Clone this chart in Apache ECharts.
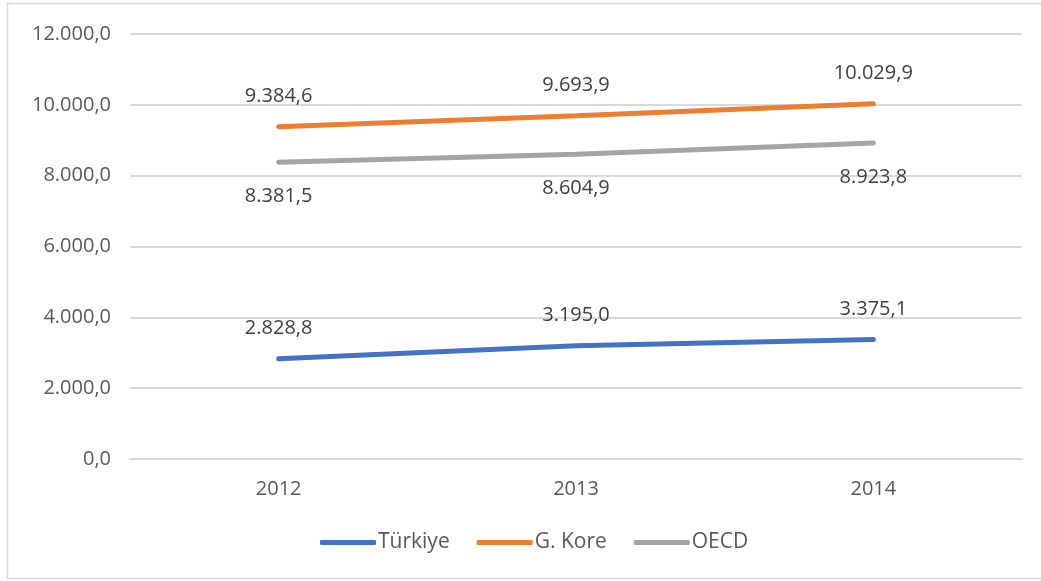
<!DOCTYPE html>
<html>
<head>
<meta charset="utf-8">
<script src="https://cdn.jsdelivr.net/npm/echarts@6/dist/echarts.min.js"></script>
<style>
  html, body { margin: 0; padding: 0; background: #fff; }
  #chart { width: 1041px; height: 581px; }
</style>
</head>
<body>
<div id="chart"></div>
<script>
const years = ['2012', '2013', '2014'];
const turkiye = [2828.8, 3195.0, 3375.1];
const gKore = [9384.6, 9693.9, 10029.9];
const oecd = [8381.5, 8604.9, 8923.8];

const fontFamily = '"Open Sans", "Noto Sans", sans-serif';

// Turkish number format: 9.384,6
function fmt(v) {
    let parts = v.toFixed(1).split('.');
    let intPart = parts[0].replace(/\B(?=(\d{3})+(?!\d))/g, '.');
    return intPart + ',' + parts[1];
}

let myChart = echarts.init(document.getElementById('chart'));

function makeSeries(name, data, color, pos) {
    return {
        name: name,
        type: 'line',
        data: data,
        symbol: 'circle',
        symbolSize: 1,
        showSymbol: true,
        lineStyle: { color: color, width: 5, cap: 'round' },
        itemStyle: { color: color },
        label: {
            show: true,
            position: pos,
            distance: pos === 'top' ? 20 : 24,
            formatter: function (p) { return fmt(p.value); },
            color: '#404040',
            fontSize: 20,
            fontFamily: fontFamily
        }
    };
}

let option = {
    animation: false,
    backgroundColor: '#fff',
    grid: { left: 130, right: 19, top: 34, bottom: 122 },
    graphic: [{
        type: 'rect',
        shape: { x: 7.5, y: 3.5, width: 1100, height: 575 },
        style: { fill: 'none', stroke: '#d9d9d9', lineWidth: 1.5 },
        silent: true
    }],
    legend: {
        bottom: 23,
        left: 315,
        itemWidth: 56,
        itemHeight: 5,
        itemGap: 27,
        icon: 'roundRect',
        textStyle: { color: '#595959', fontSize: 21, fontFamily: fontFamily, padding: [0, 0, 0, -3] },
        data: ['Türkiye', 'G. Kore', 'OECD']
    },
    xAxis: {
        type: 'category',
        data: years,
        axisLine: { lineStyle: { color: '#d9d9d9', width: 2 } },
        axisTick: { show: false },
        axisLabel: { color: '#595959', fontSize: 20, fontFamily: fontFamily, margin: 20 }
    },
    yAxis: {
        type: 'value',
        min: 0,
        max: 12000,
        interval: 2000,
        axisLine: { show: false },
        axisTick: { show: false },
        splitLine: { lineStyle: { color: '#d9d9d9', width: 2 } },
        axisLabel: {
            color: '#595959',
            fontSize: 20,
            fontFamily: fontFamily,
            margin: 19,
            formatter: function (v) { return fmt(v); }
        }
    },
    series: [
        makeSeries('Türkiye', turkiye, '#4472C4', 'top'),
        makeSeries('G. Kore', gKore, '#ED7D31', 'top'),
        makeSeries('OECD', oecd, '#A5A5A5', 'bottom')
    ]
};

option && myChart.setOption(option);
</script>
</body>
</html>
